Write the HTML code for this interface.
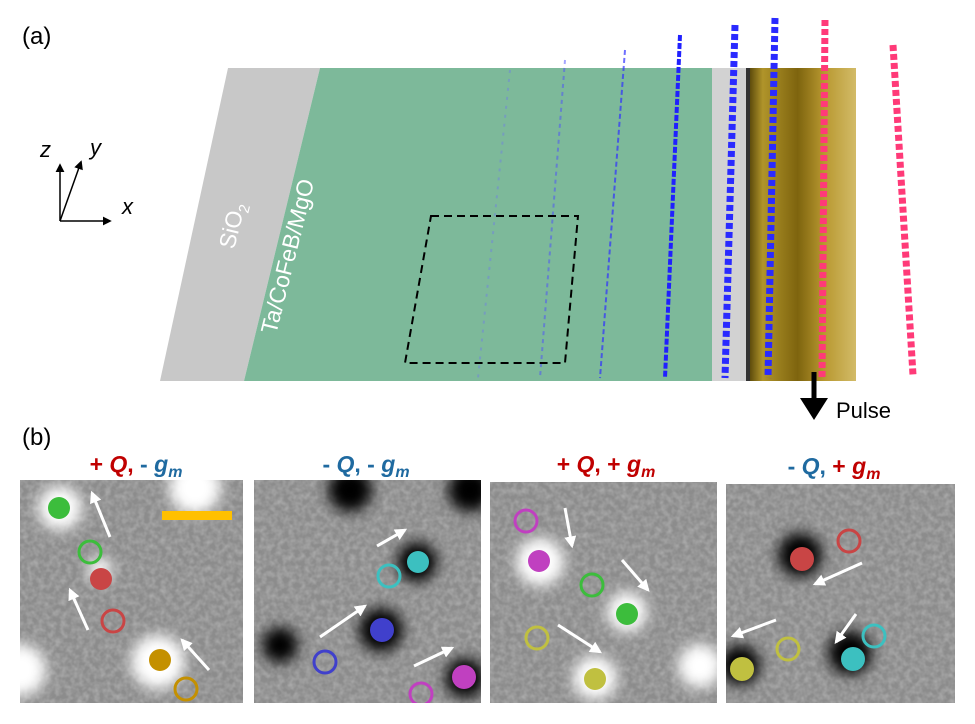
<!DOCTYPE html>
<html><head><meta charset="utf-8"><style>
body{margin:0;background:#fff;}
svg{display:block;font-family:"Liberation Sans",sans-serif;}
</style></head><body>
<svg width="975" height="724" viewBox="0 0 975 724" xmlns="http://www.w3.org/2000/svg">
<defs>
<marker id="ah" viewBox="0 0 10 10" refX="8" refY="5" markerWidth="6" markerHeight="6" orient="auto"><path d="M0,0L10,5L0,10z" fill="#000"/></marker>
<marker id="wh" viewBox="0 0 10 10" refX="8" refY="5" markerWidth="4" markerHeight="4" orient="auto"><path d="M0,0L10,5L0,10z" fill="#fff"/></marker>
<filter id="bl"><feGaussianBlur stdDeviation="7"/></filter>
<filter id="noise"><feTurbulence type="fractalNoise" baseFrequency="0.18" numOctaves="2" seed="3"/><feColorMatrix type="matrix" values="0 0 0 0 0.5  0 0 0 0 0.5  0 0 0 0 0.5  0 0 0 1.1 -0.35"/></filter>
<linearGradient id="gold" x1="0" x2="1"><stop offset="0" stop-color="#5e4c0c"/><stop offset="0.12" stop-color="#b0942a"/><stop offset="0.45" stop-color="#7e640e"/><stop offset="0.7" stop-color="#b89830"/><stop offset="1" stop-color="#d2bb68"/></linearGradient>
</defs>
<text x="22" y="44" font-size="24">(a)</text>
<line x1="60" y1="221" x2="60" y2="165" stroke="#000" stroke-width="1.5" marker-end="url(#ah)"/>
<line x1="60" y1="221" x2="81" y2="162" stroke="#000" stroke-width="1.5" marker-end="url(#ah)"/>
<line x1="60" y1="221" x2="110" y2="221" stroke="#000" stroke-width="1.5" marker-end="url(#ah)"/>
<text x="40" y="157" font-size="22" font-style="italic">z</text>
<text x="90" y="155" font-size="22" font-style="italic">y</text>
<text x="122" y="214" font-size="22" font-style="italic">x</text>
<polygon points="228,68 320,68 244,381 160,381" fill="#c8c8c8"/>
<polygon points="320,68 712,68 712,381 244,381" fill="#7db99a"/>
<polygon points="712,68 746,68 746,381 712,381" fill="#d2d2d2"/>
<rect x="746" y="68" width="4" height="313" fill="#333"/>
<rect x="750" y="68" width="106" height="313" fill="url(#gold)"/>
<text transform="translate(234,250) rotate(-76)" font-size="23" fill="#fff">SiO<tspan font-size="15" dy="5">2</tspan></text>
<text transform="translate(276,335) rotate(-76)" font-size="23" fill="#fff">Ta/CoFeB/MgO</text>
<g stroke-width="2">
<path d="M510,70 L478,378" stroke="#6b6bff" stroke-opacity="0.35" stroke-dasharray="3 6"/>
<path d="M565,60 L540,378" stroke="#4b4bff" stroke-opacity="0.5" stroke-dasharray="4 4"/>
<path d="M625,50 L600,378" stroke="#3030ff" stroke-opacity="0.7" stroke-dasharray="5 3"/>
<path d="M680,35 L665,378" stroke="#2020ff" stroke-width="4" stroke-dasharray="6 2"/>
<path d="M735,25 L725,378" stroke="#2a2aff" stroke-width="7" stroke-dasharray="6 3"/>
<path d="M775,18 L768,378" stroke="#2a2aff" stroke-width="7" stroke-dasharray="6 3"/>
<path d="M825,20 L822,378" stroke="#ff3a78" stroke-width="7" stroke-dasharray="6 3"/>
<path d="M893,45 L913,375" stroke="#ff3a78" stroke-width="7" stroke-dasharray="6 3"/>
</g>
<polygon points="431,216 578,216 565,363 405,363" fill="none" stroke="#000" stroke-width="2" stroke-dasharray="8 5"/>
<line x1="814" y1="372" x2="814" y2="402" stroke="#000" stroke-width="5"/>
<polygon points="800,398 828,398 814,420" fill="#000"/>
<text x="836" y="418" font-size="22">Pulse</text>
<text x="22" y="445" font-size="24">(b)</text>
<g font-size="23" font-weight="bold" text-anchor="middle">
<text x="136" y="472"><tspan fill="#c00000">+ <tspan font-style="italic">Q</tspan>,</tspan><tspan fill="#1f6aa0"> - <tspan font-style="italic">g</tspan><tspan font-style="italic" font-size="16" dy="5">m</tspan></tspan></text>
<text x="366" y="472" fill="#1f6aa0">- <tspan font-style="italic">Q</tspan>, - <tspan font-style="italic">g</tspan><tspan font-style="italic" font-size="16" dy="5">m</tspan></text>
<text x="606" y="472"><tspan fill="#c00000">+ <tspan font-style="italic">Q</tspan>, + <tspan font-style="italic">g</tspan><tspan font-style="italic" font-size="16" dy="5">m</tspan></tspan></text>
<text x="834" y="474"><tspan fill="#1f6aa0">- <tspan font-style="italic">Q</tspan>,</tspan><tspan fill="#c00000"> + <tspan font-style="italic">g</tspan><tspan font-style="italic" font-size="16" dy="5">m</tspan></tspan></text>
</g>
<clipPath id="c1"><rect x="20" y="480" width="223" height="223"/></clipPath>
<clipPath id="c2"><rect x="254" y="480" width="227" height="223"/></clipPath>
<clipPath id="c3"><rect x="490" y="482" width="227" height="221"/></clipPath>
<clipPath id="c4"><rect x="726" y="484" width="229" height="219"/></clipPath>
<g clip-path="url(#c1)"><rect x="20" y="480" width="223" height="223" fill="#8c8c8c"/><rect x="20" y="480" width="223" height="223" filter="url(#noise)"/>
<g fill="#fff" filter="url(#bl)"><circle cx="60" cy="508" r="22"/><circle cx="195" cy="488" r="26"/><circle cx="158" cy="662" r="27"/><circle cx="20" cy="670" r="26"/><circle cx="100" cy="570" r="12"/></g>
<rect x="162" y="511" width="70" height="9" fill="#ffc000"/>
<circle cx="59" cy="508" r="11" fill="#3cbd3c"/><circle cx="90" cy="552" r="11" fill="none" stroke="#3cbd3c" stroke-width="3"/>
<circle cx="101" cy="579" r="11" fill="#c94545"/><circle cx="113" cy="621" r="11" fill="none" stroke="#c94545" stroke-width="3"/>
<circle cx="160" cy="660" r="11" fill="#c49000"/><circle cx="186" cy="689" r="11" fill="none" stroke="#c49000" stroke-width="3"/>
</g>
<g clip-path="url(#c2)"><rect x="254" y="480" width="227" height="223" fill="#8c8c8c"/><rect x="254" y="480" width="227" height="223" filter="url(#noise)"/>
<g fill="#000" filter="url(#bl)"><circle cx="350" cy="490" r="22"/><circle cx="470" cy="490" r="22"/><circle cx="280" cy="645" r="18"/><circle cx="417" cy="562" r="20"/><circle cx="381" cy="630" r="22"/><circle cx="465" cy="678" r="20"/></g>
<circle cx="418" cy="562" r="11" fill="#3cc0c0"/><circle cx="389" cy="576" r="11" fill="none" stroke="#3cc0c0" stroke-width="3"/>
<circle cx="382" cy="630" r="12" fill="#4040cc"/><circle cx="325" cy="662" r="11" fill="none" stroke="#4040cc" stroke-width="3"/>
<circle cx="464" cy="677" r="12" fill="#c040c0"/><circle cx="421" cy="694" r="11" fill="none" stroke="#c040c0" stroke-width="3"/>
</g>
<g clip-path="url(#c3)"><rect x="490" y="482" width="227" height="221" fill="#8c8c8c"/><rect x="490" y="482" width="227" height="221" filter="url(#noise)"/>
<g fill="#fff" filter="url(#bl)"><circle cx="540" cy="562" r="24"/><circle cx="627" cy="612" r="20"/><circle cx="595" cy="678" r="22"/><circle cx="700" cy="666" r="22"/></g>
<circle cx="526" cy="521" r="11" fill="none" stroke="#c040c0" stroke-width="3"/><circle cx="539" cy="561" r="11" fill="#c040c0"/>
<circle cx="592" cy="585" r="11" fill="none" stroke="#3cbd3c" stroke-width="3"/><circle cx="627" cy="614" r="11" fill="#3cbd3c"/>
<circle cx="537" cy="638" r="11" fill="none" stroke="#c0c040" stroke-width="3"/><circle cx="595" cy="679" r="11" fill="#c0c040"/>
</g>
<g clip-path="url(#c4)"><rect x="726" y="484" width="229" height="219" fill="#8c8c8c"/><rect x="726" y="484" width="229" height="219" filter="url(#noise)"/>
<g fill="#000" filter="url(#bl)"><circle cx="800" cy="555" r="22"/><circle cx="740" cy="665" r="20"/><circle cx="850" cy="653" r="22"/></g>
<circle cx="849" cy="541" r="11" fill="none" stroke="#c94545" stroke-width="3"/><circle cx="802" cy="559" r="12" fill="#c94545"/>
<circle cx="788" cy="649" r="11" fill="none" stroke="#c0c040" stroke-width="3"/><circle cx="742" cy="669" r="12" fill="#c0c040"/>
<circle cx="874" cy="636" r="11" fill="none" stroke="#3cc0c0" stroke-width="3"/><circle cx="853" cy="659" r="12" fill="#3cc0c0"/>
</g>
<g stroke="#fff" stroke-width="3" marker-end="url(#wh)">
<line x1="110" y1="537" x2="92" y2="493"/><line x1="88" y1="630" x2="70" y2="590"/><line x1="209" y1="670" x2="182" y2="640"/>
<line x1="377" y1="546" x2="405" y2="530"/><line x1="320" y1="637" x2="365" y2="606"/><line x1="414" y1="666" x2="452" y2="648"/>
<line x1="565" y1="508" x2="572" y2="546"/><line x1="622" y1="560" x2="648" y2="590"/><line x1="558" y1="625" x2="600" y2="652"/>
<line x1="862" y1="563" x2="815" y2="584"/><line x1="776" y1="620" x2="733" y2="636"/><line x1="856" y1="614" x2="836" y2="642"/>
</g>
</svg>
</body></html>
